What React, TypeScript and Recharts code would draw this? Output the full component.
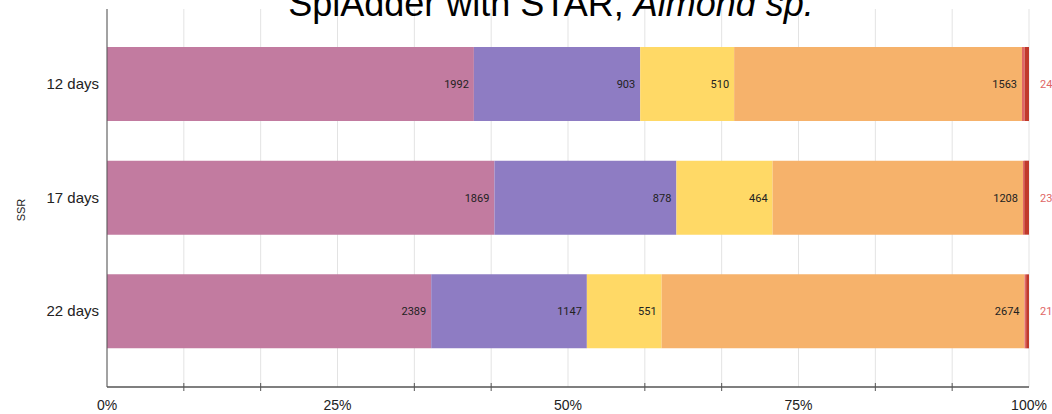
import { BarChart, Bar, XAxis, YAxis, CartesianGrid, LabelList } from "recharts";

const categories = ["12 days", "17 days", "22 days"];
const pinkValues = [1992, 1869, 2389];
const purpleValues = [903, 878, 1147];
const yellowValues = [510, 464, 551];
const orangeValues = [1563, 1208, 2674];
const lightRedValues = [14, 6, 12];
const darkRedValues = [24, 23, 21];
const xTickLabels = ["0%", "", "", "25%", "", "", "50%", "", "", "75%", "", "", "100%"];

const xTicks = xTickLabels.map((_, i) => i / (xTickLabels.length - 1));

const rows = categories.map((name, i) => ({
  name,
  pink: pinkValues[i],
  purple: purpleValues[i],
  yellow: yellowValues[i],
  orange: orangeValues[i],
  lightRed: lightRedValues[i],
  darkRed: darkRedValues[i],
}));

const ARIAL = "'Liberation Sans', Arial, sans-serif";
const ROBOTO = "Roboto, 'Liberation Sans', sans-serif";

function XTick(props: any) {
  const { x, y, index } = props;
  const label = xTickLabels[index];
  if (label) {
    return (
      <text x={x} y={y + 23} textAnchor="middle" fontSize={14} fill="#222" fontFamily={ARIAL}>
        {label}
      </text>
    );
  }
  return <line x1={x} x2={x} y1={y - 4} y2={y + 4} stroke="#555" strokeWidth={1} />;
}

const inside = { position: "insideRight" as const, offset: 5, fill: "#222", fontSize: 11, fontFamily: ROBOTO };

export default function App() {
  return (
    <div style={{ position: "absolute", left: 0, top: 0, width: 1052, height: 414, background: "#fff" }}>
      <BarChart
        width={1052}
        height={414}
        data={rows}
        layout="vertical"
        stackOffset="expand"
        margin={{ top: 9, right: 23, bottom: 0, left: 0 }}
      >
        <CartesianGrid horizontal={false} stroke="#e3e3e3" />
        <XAxis
          type="number"
          domain={[0, 1]}
          ticks={xTicks}
          interval={0}
          height={27}
          tickSize={0}
          tickMargin={0}
          tick={<XTick />}
          axisLine={{ stroke: "#555", strokeWidth: 1.5 }}
          tickLine={false}
        />
        <YAxis
          type="category"
          dataKey="name"
          width={107}
          padding={{ top: 18, bottom: 19 }}
          tickLine={false}
          tickSize={0}
          tickMargin={8}
          axisLine={{ stroke: "#555", strokeWidth: 1 }}
          tick={{ fill: "#222", fontSize: 15, fontFamily: ARIAL }}
        />
        <Bar dataKey="pink" stackId="s" fill="#C27BA0" barSize={74} isAnimationActive={false}>
          <LabelList dataKey="pink" {...inside} />
        </Bar>
        <Bar dataKey="purple" stackId="s" fill="#8E7CC3" barSize={74} isAnimationActive={false}>
          <LabelList dataKey="purple" {...inside} />
        </Bar>
        <Bar dataKey="yellow" stackId="s" fill="#FFD966" barSize={74} isAnimationActive={false}>
          <LabelList dataKey="yellow" {...inside} />
        </Bar>
        <Bar dataKey="orange" stackId="s" fill="#F6B26B" barSize={74} isAnimationActive={false}>
          <LabelList dataKey="orange" {...inside} />
        </Bar>
        <Bar dataKey="lightRed" stackId="s" fill="#E06666" barSize={74} isAnimationActive={false} />
        <Bar dataKey="darkRed" stackId="s" fill="#C0392B" barSize={74} isAnimationActive={false}>
          <LabelList
            dataKey="darkRed"
            position="right"
            offset={11}
            fill="#E06666"
            fontSize={11}
            fontFamily={ROBOTO}
          />
        </Bar>
      </BarChart>
      <svg
        width={1052}
        height={414}
        style={{ position: "absolute", left: 0, top: 0, pointerEvents: "none" }}
      >
        <text x={551} y={16} textAnchor="middle" fontSize={36} fill="#000" fontFamily={ARIAL}>
          SplAdder with STAR, <tspan fontStyle="italic">Almond sp.</tspan>
        </text>
        <text
          x={21}
          y={210}
          transform="rotate(-90, 21, 210)"
          textAnchor="middle"
          dominantBaseline="central"
          fontSize={11}
          fill="#222"
          fontFamily={ARIAL}
        >
          SSR
        </text>
      </svg>
    </div>
  );
}
